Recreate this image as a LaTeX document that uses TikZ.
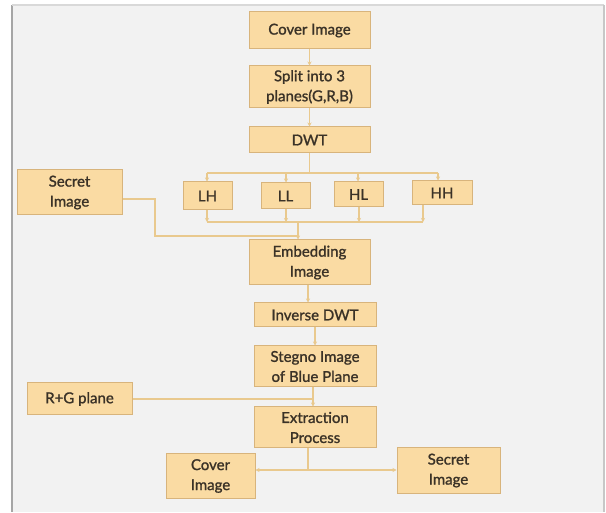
\documentclass[tikz,border=0pt]{standalone}
\usepackage{fontspec}
\setmainfont{Lato}[FakeBold=1.3]
\usetikzlibrary{arrows.meta}
\definecolor{boxfill}{HTML}{FADBA3}
\definecolor{boxline}{HTML}{D8B47C}
\definecolor{wire}{HTML}{E9C98E}
\definecolor{ink}{HTML}{3A3227}
\definecolor{bg}{HTML}{F2F2F2}
\tikzset{
  box/.style={draw=boxline, fill=boxfill, line width=1pt, inner sep=1pt, align=center,
    text=ink, font=\fontsize{15}{20}\selectfont},
  wire/.style={draw=wire, line width=1.4pt},
  arr/.style={wire, -{Stealth[length=4pt,width=4pt]}}
}
\begin{document}
\begin{tikzpicture}[x=1pt,y=-1pt]
\useasboundingbox (0,0) rectangle (606,513);
\fill[white] (0,0) rectangle (606,513);
\fill[bg] (12,5) rectangle (604,512);
\draw[line width=1.2pt, color=black!35] (12,5) -- (12,512);
\draw[line width=1.2pt, color=black!15] (12,5) -- (604,5);
\draw[line width=1.2pt, color=black!22] (604,5) -- (604,512);

\node[box, minimum width=121, minimum height=37] (cover) at (309.5,30.5) {Cover Image};
\node[box, minimum width=121, minimum height=42] (split) at (309.5,87) {Split into 3\\planes(G,R,B)};
\node[box, minimum width=121, minimum height=26] (dwt) at (309.5,140) {DWT};
\node[box, minimum width=49, minimum height=28] (lh) at (207.5,196) {LH};
\node[box, minimum width=49, minimum height=26] (ll) at (285.5,196) {LL};
\node[box, minimum width=49, minimum height=25] (hl) at (358.5,194.5) {HL};
\node[box, minimum width=60, minimum height=24] (hh) at (442,193) {HH};
\node[box, minimum width=105, minimum height=45] (sec1) at (69.5,192.5) {Secret\\Image};
\node[box, minimum width=121, minimum height=45] (embed) at (309.5,262.5) {Embedding\\Image};
\node[box, minimum width=122, minimum height=24] (inv) at (315,315) {Inverse DWT};
\node[box, minimum width=122, minimum height=41] (steg) at (315,366.5) {Stegno Image\\of Blue Plane};
\node[box, minimum width=105, minimum height=32] (rg) at (79.5,399) {R+G plane};
\node[box, minimum width=122, minimum height=41] (extr) at (315,427.5) {Extraction\\Process};
\node[box, minimum width=89, minimum height=44] (cov2) at (210.5,476) {Cover\\Image};
\node[box, minimum width=103, minimum height=45] (sec2) at (448.5,470.5) {Secret\\Image};

\coordinate (j1) at (309.5,173);
\coordinate (j2) at (298,222);
\coordinate (j3) at (308,470);
\coordinate (s1) at (155,199);
\coordinate (s2) at (155,236);
\coordinate (r1) at (313,399);

\draw[arr] (cover) -- (split);
\draw[arr] (split) -- (dwt);
\draw[wire] (dwt) -- (j1);
\draw[wire] (207,173) -- (438,173);
\draw[arr] (207,173) -- (lh.north -| 207,0);
\draw[arr] (286,173) -- (ll.north -| 286,0);
\draw[arr] (358,173) -- (hl.north -| 358,0);
\draw[arr] (438,173) -- (hh.north -| 438,0);

\draw[arr] (lh.south -| 207,0) -- (207,222);
\draw[arr] (ll.south -| 286,0) -- (286,222);
\draw[arr] (hl.south -| 359,0) -- (359,222);
\draw[arr] (hh.south -| 423,0) -- (423,222);
\draw[wire] (207,222) -- (423,222);
\draw[arr] (j2) -- (embed.north -| j2);

\draw[wire] (sec1.east |- s1) -- (s1) -- (s2) -- (298,236);

\draw[arr] (embed.south -| 308,0) -- (inv.north -| 308,0);
\draw[arr] (inv) -- (steg);
\draw[arr] (steg.south -| r1) -- (extr.north -| r1);
\draw[wire] (rg.east |- r1) -- (r1);

\draw[wire] (extr.south -| j3) -- (j3);
\draw[arr] (j3) -- (cov2.east |- j3);
\draw[arr] (j3) -- (sec2.west |- j3);
\end{tikzpicture}
\end{document}
